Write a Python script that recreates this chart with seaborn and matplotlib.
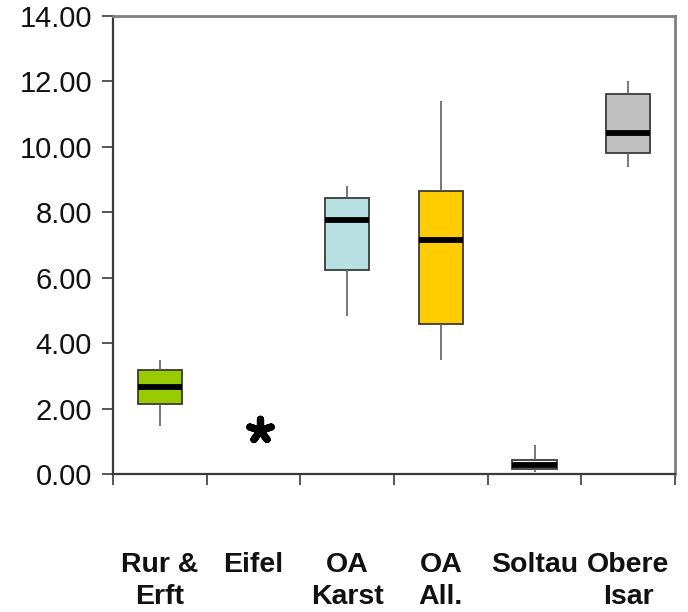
import numpy as np
import pandas as pd
import matplotlib
matplotlib.use("Agg")
import matplotlib.pyplot as plt
import seaborn as sns

# Regions shown on the x axis (display labels)
categories = ["Rur &\nErft", "Eifel", "OA\nKarst", "OA\nAll.", "Soltau", "Obere\nIsar"]

# Five-number summaries per region: min, Q1, median, Q3, max
rur_erft = [1.48, 2.15, 2.66, 3.18, 3.49]
oa_karst = [4.83, 6.25, 7.75, 8.45, 8.79]
oa_all = [3.49, 4.57, 7.16, 8.65, 11.41]
soltau = [0.07, 0.15, 0.28, 0.43, 0.89]
obere_isar = [9.38, 9.80, 10.43, 11.61, 12.01]

# Eifel has a single extreme value only
eifel_extreme = [1.35]

box_colors = {
    "Rur &\nErft": "#99CC00",
    "OA\nKarst": "#B9E0E3",
    "OA\nAll.": "#FFCC00",
    "Soltau": "#FFFFFF",
    "Obere\nIsar": "#C0C0C0",
}

y_ticks = [0, 2, 4, 6, 8, 10, 12, 14]

series = {
    "Rur &\nErft": rur_erft,
    "OA\nKarst": oa_karst,
    "OA\nAll.": oa_all,
    "Soltau": soltau,
    "Obere\nIsar": obere_isar,
}
df = pd.DataFrame(
    [(region, v) for region, vals in series.items() for v in vals],
    columns=["region", "value"],
)

sns.set_theme(style="white")
plt.rcParams["font.family"] = ["Liberation Sans", "DejaVu Sans"]

fig = plt.figure(figsize=(6.88, 6.12), dpi=100)
ax = fig.add_axes([113 / 688, 1 - 474 / 612, (675 - 113) / 688, (474 - 16) / 612])

sns.boxplot(
    data=df, x="region", y="value", order=categories,
    hue="region", hue_order=list(box_colors), palette=box_colors, legend=False,
    saturation=1, width=0.47, whis=(0, 100), showcaps=False, showfliers=False,
    linecolor="#3a3a3a", linewidth=1.3,
    whiskerprops=dict(color="#606060", linewidth=1.2),
    medianprops=dict(color="black", linewidth=4.2),
    ax=ax,
)

# Extreme value marker for Eifel
ex = categories.index("Eifel")
ax.scatter([ex + 0.07] * len(eifel_extreme), eifel_extreme, marker=(5, 2, 0),
           s=260, linewidths=5.2, color="black", zorder=5)

ax.set_xlim(-0.5, len(categories) - 0.5)
ax.set_ylim(0, 14)
ax.set_yticks(y_ticks)
ax.set_yticklabels([f"{v:.2f}" for v in y_ticks], fontsize=21, color="#111111")

# Ticks at category boundaries, labels at category centres
ax.set_xticks(np.arange(-0.5, len(categories)), minor=False)
ax.set_xticklabels([], minor=False)
ax.set_xticks(np.arange(len(categories)), minor=True)
ax.set_xticklabels(categories, minor=True, fontsize=20.5, fontweight="bold",
                   linespacing=1.3, color="#111111")
ax.tick_params(axis="x", which="major", direction="out", length=8, width=1.2,
               color="#3a3a3a", bottom=True)
ax.tick_params(axis="x", which="minor", length=0, pad=56, bottom=True)
ax.tick_params(axis="y", direction="out", length=8, width=1.2, color="#3a3a3a",
               left=True, pad=7)

ax.set_xlabel("")
ax.set_ylabel("")

for side in ["left", "bottom"]:
    ax.spines[side].set_color("#3a3a3a")
    ax.spines[side].set_linewidth(1.6)
for side in ["top", "right"]:
    ax.spines[side].set_color("#808080")
    ax.spines[side].set_linewidth(2.0)

fig.savefig("out.png", dpi=100)
